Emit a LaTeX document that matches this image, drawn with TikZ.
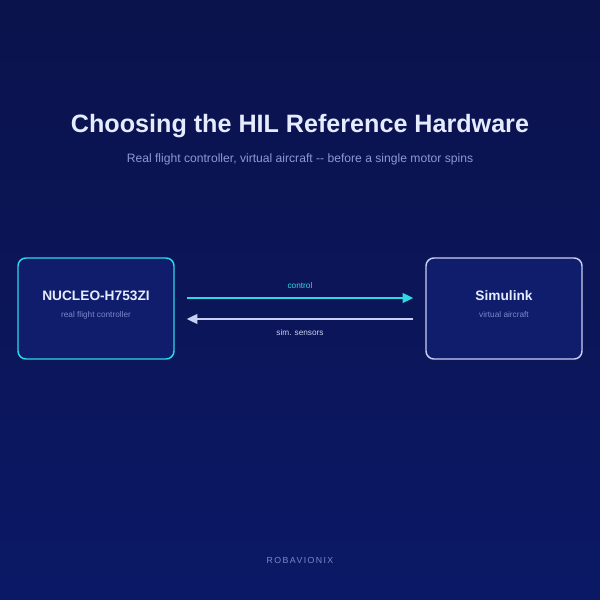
\documentclass[tikz,border=0pt]{standalone}
\usepackage{fontspec}
\setmainfont{Liberation Sans}
\usepackage{xcolor}
\usetikzlibrary{arrows.meta}

\definecolor{bgtop}{HTML}{0B134C}
\definecolor{bgbot}{HTML}{0B1865}
\definecolor{boxfill}{HTML}{101C6C}
\definecolor{cyanline}{HTML}{2BD9E8}
\definecolor{paleline}{HTML}{C8D0F2}
\definecolor{titletxt}{HTML}{E6ECFF}
\definecolor{subtxt}{HTML}{8C98D8}
\definecolor{dimtxt}{HTML}{7D88C8}

\begin{document}
\begin{tikzpicture}[
  hwbox/.style={
    draw, line width=0.85pt, rectangle, rounded corners=4.5pt,
    fill=boxfill, minimum width=3.12cm, minimum height=2.02cm, inner sep=0pt
  },
  boxname/.style={font=\fontsize{7.8}{9}\selectfont\bfseries, text=titletxt, inner sep=0pt},
  boxsub/.style={font=\fontsize{4.7}{5}\selectfont, text=dimtxt, inner sep=0pt},
  lbl/.style={font=\fontsize{4.7}{5}\selectfont, inner sep=0pt},
  arr/.style={line width=1.1pt, -{Triangle[length=6pt, width=5.5pt]}},
]

% background
\shade[top color=bgtop, bottom color=bgbot] (0,0) rectangle (12,12);
\useasboundingbox (0,0) rectangle (12,12);

% heading
\node[font=\fontsize{14.3}{16}\selectfont\bfseries, text=titletxt] (title) at (6, 9.48)
  {Choosing the HIL Reference Hardware};
\node[font=\fontsize{6.9}{8}\selectfont, text=subtxt] (subtitle) at (6, 8.82)
  {Real flight controller, virtual aircraft {-}{-} before a single motor spins};

% the two ends of the loop
\node[hwbox, draw=cyanline]  (nucleo) at (1.92, 5.83) {};
\node[hwbox, draw=paleline]  (sim)    at (10.08, 5.83) {};

\node[boxname] (nucleoname) at (1.92, 6.08) {NUCLEO-H753ZI};
\node[boxsub]  (nucleosub)  at (1.92, 5.70) {real flight controller};
\node[boxname] (simname)    at (10.08, 6.08) {Simulink};
\node[boxsub]  (simsub)     at (10.08, 5.70) {virtual aircraft};

% links
\draw[arr, cyanline, shorten <=0.24cm, shorten >=0.24cm]
  ([yshift=0.21cm]nucleo.east) -- ([yshift=0.21cm]sim.west)
  node[lbl, midway, above=0.16cm, text=cyanline] (ctl) {control};
\draw[arr, paleline, shorten <=0.24cm, shorten >=0.24cm]
  ([yshift=-0.21cm]sim.west) -- ([yshift=-0.21cm]nucleo.east)
  node[lbl, midway, below=0.19cm, text=paleline] (sens) {sim. sensors};

% footer
\node[font=\fontsize{5}{6}\selectfont\addfontfeature{LetterSpace=16}, text=dimtxt] (brand) at (6, 0.8)
  {ROBAVIONIX};

\end{tikzpicture}
\end{document}
